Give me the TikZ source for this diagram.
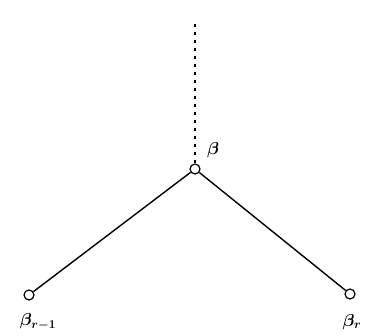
\documentclass[tikz,border=0pt]{standalone}
\begin{document}
\begin{tikzpicture}[x=1pt,y=-1pt,
  vert/.style={circle,draw,line width=1.2pt,inner sep=0pt,minimum size=10pt,fill=white},
  edge/.style={line width=1.4pt},
  lab/.style={font=\LARGE\boldmath}]
\useasboundingbox (0,0) rectangle (365,336);
\coordinate (top) at (195,20);
\node[vert] (c) at (195,169) {};
\node[vert] (l) at (29,295) {};
\node[vert] (r) at (350,294) {};
\draw[edge,dash pattern=on 3pt off 5pt] (c) -- (top);
\draw[edge] (c) -- (l);
\draw[edge] (c) -- (r);
\node[lab] (lc) at (213,150) {$\beta$};
\node[lab] (ll) at (38,322) {$\beta_{r-1}$};
\node[lab] (lr) at (352,322) {$\beta_r$};
\end{tikzpicture}
\end{document}
